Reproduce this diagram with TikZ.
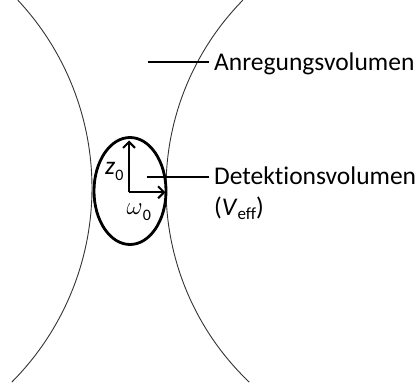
\documentclass[tikz,border=0pt]{standalone}
\usepackage{fontspec}
\setmainfont{Carlito}[Ligatures=NoCommon]
\usetikzlibrary{arrows.meta,shapes.geometric}

\tikzset{
  beam/.style={line width=0.9pt, draw=black!80},
  focus/.style={ellipse, draw, line width=2.8pt, inner sep=0pt,
                minimum width=72pt, minimum height=107pt},
  axisarrow/.style={line width=2pt,
                    -{Straight Barb[length=6pt,width=12pt,line width=2pt]}},
  leader/.style={line width=2pt},
  label/.style={inner sep=0pt, font=\fontsize{25.5}{31}\selectfont},
}

\begin{document}
\begin{tikzpicture}[x=1pt,y=-1pt]
  \useasboundingbox (0,0) rectangle (417,390);

  % Beam envelope (excitation volume), drawn as two circular arcs
  \draw[beam] plot[domain=-43.1:44.9, samples=90]
    ({-183+275*cos(\x)},{188+275*sin(\x)});
  \draw[beam] plot[domain=-44.5:46.4, samples=90]
    ({434-268*cos(\x)},{188+268*sin(\x)});

  % Detection volume
  \node[focus] (det) at (130,191) {};

  % Semi-axes z0 and omega0
  \coordinate (o) at (129,192.3);
  \coordinate (ztip) at (129,140.5);
  \coordinate (wtip) at (165.5,192.3);
  \draw[axisarrow] (o) -- (ztip);
  \draw[axisarrow] (o) -- (wtip);
  \node[label, anchor=base west] (zlab) at (105,175)
    {\textit{z}\raisebox{-5.5pt}{\fontsize{16}{18}\selectfont 0}};
  \node[label, anchor=base west] (wlab) at (126.5,214)
    {\fontsize{27}{31}\selectfont$\omega$\raisebox{-6.5pt}{\fontsize{16}{18}\selectfont 0}};

  % Labels with leader lines
  \node[label, anchor=base west, inner xsep=5pt] (anr) at (209,71)
    {Anregungsvolumen};
  \coordinate (a1) at (147.7,61.7);
  \draw[leader] (a1) -- (a1 -| anr.west);

  \node[label, anchor=base west, inner xsep=5pt] (dlab) at (209,184)
    {Detektionsvolumen};
  \node[label, anchor=base west, inner xsep=5pt] (veff) at (209,215)
    {(\textit{V}\raisebox{-4.3pt}{\fontsize{17}{19}\selectfont eff})};
  \coordinate (d1) at (146.7,176.7);
  \draw[leader] (d1) -- (d1 -| dlab.west);
\end{tikzpicture}
\end{document}
